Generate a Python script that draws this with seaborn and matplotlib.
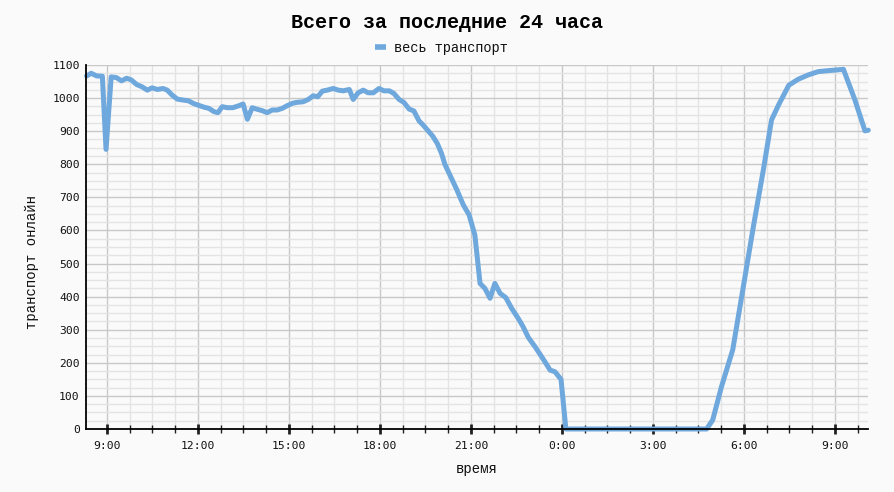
import matplotlib
matplotlib.use("Agg")
import matplotlib.pyplot as plt
import numpy as np
import pandas as pd
import seaborn as sns
from matplotlib.ticker import MultipleLocator, FixedLocator

# ---- data (hours since 00:00 of day 1; values = vehicles online) ----
hours = [8.33, 8.48, 8.66, 8.85, 8.97, 9.14, 9.31, 9.48, 9.65, 9.80, 9.98,
         10.16, 10.33, 10.49, 10.66, 10.85, 10.99, 11.15, 11.32, 11.51, 11.68,
         11.87, 12.06, 12.22, 12.36, 12.53, 12.66, 12.80, 12.97, 13.15, 13.32,
         13.49, 13.63, 13.79, 13.96, 14.12, 14.28, 14.45, 14.61, 14.78, 14.94,
         15.11, 15.25, 15.47, 15.64, 15.80, 15.95, 16.10, 16.26, 16.46, 16.63,
         16.79, 16.99, 17.12, 17.28, 17.45, 17.61, 17.78, 17.97, 18.13, 18.31,
         18.46, 18.63, 18.79, 18.96, 19.12, 19.29, 19.43, 19.59, 19.74, 19.89,
         20.03, 20.14, 20.31, 20.53, 20.75, 20.94, 21.13, 21.30, 21.46, 21.63,
         21.79, 21.96, 22.15, 22.34, 22.56, 22.72, 22.89, 23.11, 23.27, 23.44,
         23.61, 23.77, 23.97, 24.13, 28.77, 28.97, 29.26, 29.63, 29.98, 30.31,
         30.64, 30.91, 31.14, 31.48, 31.79, 32.12, 32.45, 32.78, 33.06, 33.28,
         33.66, 33.99, 34.10]
values = [1067, 1075, 1067, 1066, 845, 1064, 1062, 1052, 1060, 1055, 1041,
          1034, 1024, 1031, 1026, 1029, 1024, 1009, 997, 994, 992,
          983, 977, 972, 969, 959, 956, 974, 971, 971, 976,
          982, 936, 971, 966, 962, 956, 964, 964, 969, 977,
          984, 987, 989, 996, 1007, 1004, 1021, 1024, 1029, 1024,
          1022, 1026, 996, 1016, 1024, 1016, 1016, 1029, 1022, 1022,
          1014, 996, 987, 967, 961, 931, 918, 901, 885, 863,
          833, 800, 767, 724, 677, 647, 586, 440, 425, 395,
          440, 410, 397, 365, 334, 309, 277, 249, 227, 203,
          178, 173, 150, 0, 0, 27, 128, 239, 430, 611,
          783, 934, 979, 1039, 1057, 1070, 1080, 1083, 1085, 1087,
          994, 901, 903]
series_name = "весь транспорт"
title_text = "Всего за последние 24 часа"
x_label = "время"
y_label = "транспорт онлайн"
tick_hours = [9, 12, 15, 18, 21, 24, 27, 30, 33]
tick_labels = ["9:00", "12:00", "15:00", "18:00", "21:00", "0:00", "3:00", "6:00", "9:00"]
y_ticks = list(range(0, 1101, 100))

df = pd.DataFrame({"hour": hours, "value": values, "series": series_name})

sns.set_style("white")
plt.rcParams["font.family"] = ["DejaVu Sans Mono", "DejaVu Sans"]

bg = "#fafafa"
line_color = "#6fa8dc"

fig = plt.figure(figsize=(8.94, 4.92), dpi=100, facecolor=bg)
ax = fig.add_axes([86 / 894, 1 - 429 / 492, 782 / 894, 364 / 492])
ax.set_facecolor(bg)

sns.lineplot(data=df, x="hour", y="value", hue="series", palette=[line_color],
             linewidth=3.6, ax=ax, legend=True)
for ln in ax.lines:
    ln.set_clip_on(False)
    ln.set_solid_joinstyle("round")

ax.set_xlim(8.31, 34.09)
ax.set_ylim(0, 1100)

ax.xaxis.set_major_locator(FixedLocator(tick_hours))
ax.set_xticklabels(tick_labels)
ax.xaxis.set_minor_locator(MultipleLocator(0.75))
ax.yaxis.set_major_locator(FixedLocator(y_ticks))
ax.yaxis.set_minor_locator(MultipleLocator(25))

ax.grid(which="major", color="#c8c8c8", linewidth=1.0)
ax.grid(which="minor", color="#e4e4e4", linewidth=1.0)
ax.set_axisbelow(True)

for s in ["top", "right"]:
    ax.spines[s].set_visible(False)
for s in ["left", "bottom"]:
    ax.spines[s].set_visible(True)
    ax.spines[s].set_color("black")
    ax.spines[s].set_linewidth(1.3)

ax.tick_params(axis="x", which="major", direction="inout", length=7, width=2,
               color="#222222", pad=5, labelsize=8.2, labelcolor="#111111",
               bottom=True)
ax.tick_params(axis="x", which="minor", direction="inout", length=6, width=1,
               color="#222222", bottom=True)
ax.tick_params(axis="y", which="both", length=0, pad=4.5, labelsize=8.2,
               labelcolor="#111111")

lab_font = dict(family=["Liberation Mono", "DejaVu Sans Mono"], size=10, color="#111111")
ax.set_xlabel(x_label, va="center", **lab_font)
ax.xaxis.set_label_coords(0.5, -0.110)
ax.set_ylabel(y_label, va="center", ha="center", **lab_font)
ax.yaxis.set_label_coords(-0.069, 0.46)

fig.text(0.5, 1 - 23 / 492, title_text, ha="center", va="center",
         family=["Liberation Mono", "DejaVu Sans Mono"], fontweight="bold",
         fontsize=14.4, color="black")

handles, labels = ax.get_legend_handles_labels()
leg = ax.legend(handles, labels, loc="center", bbox_to_anchor=(0.494, 1 - 48 / 492),
                bbox_transform=fig.transFigure, frameon=False, handlelength=0.8,
                handletextpad=0.6,
                prop=dict(family=["Liberation Mono", "DejaVu Sans Mono"], size=9.8))
for h in leg.get_lines():
    h.set_linewidth(4)
    h.set_solid_capstyle("butt")
for t in leg.get_texts():
    t.set_color("#111111")

fig.savefig("out.png", dpi=100, facecolor=bg)
